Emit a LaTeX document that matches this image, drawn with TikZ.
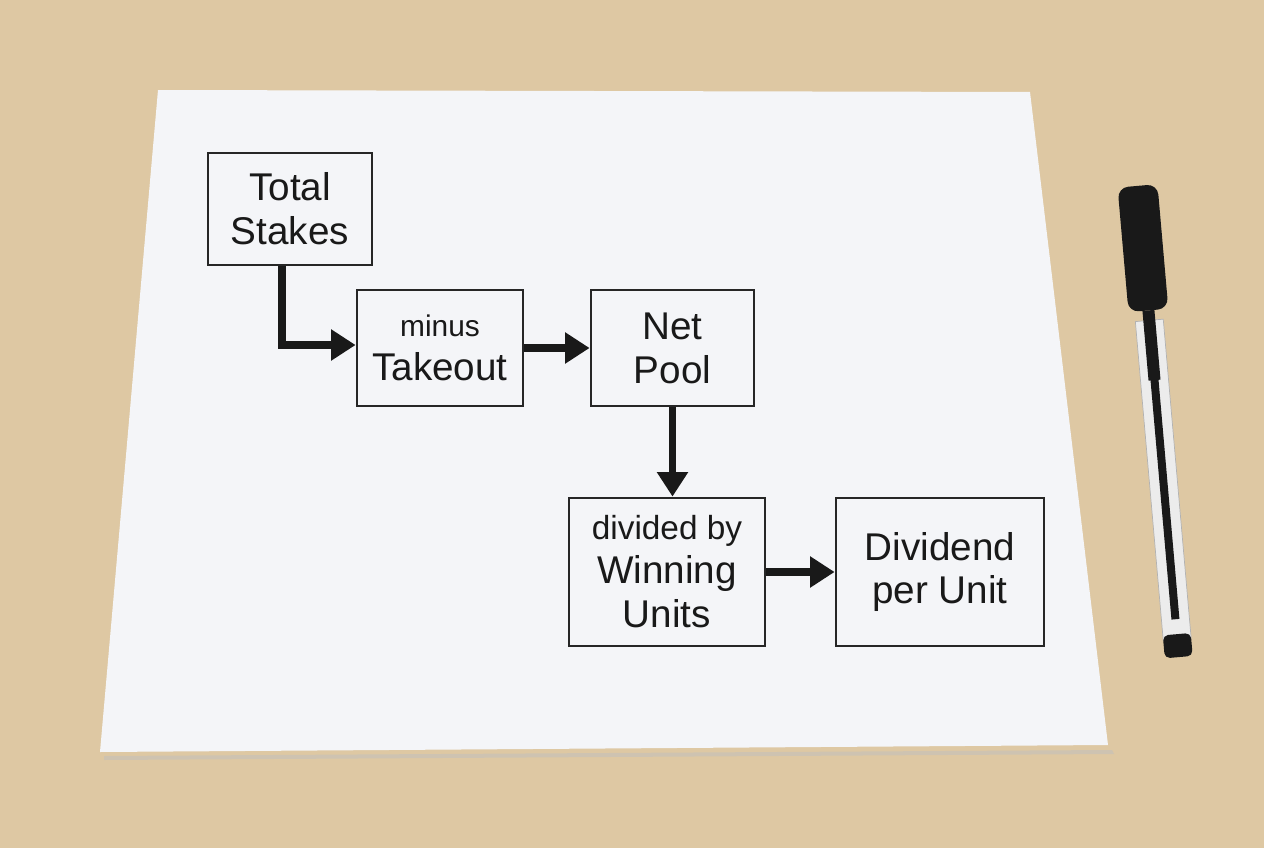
\documentclass[tikz,border=0pt]{standalone}
\usepackage{fontspec}
\setmainfont{Liberation Sans}
\usetikzlibrary{arrows.meta}
\begin{document}
\begin{tikzpicture}[x=0.02cm,y=-0.02cm,
  box/.style={draw=black!85,line width=1.6pt,inner sep=0pt,align=center,font=\fontsize{22}{25}\selectfont,text=black!90},
  arr/.style={draw=black!90,line width=4pt,-{Triangle[length=14pt,width=17pt]}}]
\useasboundingbox (0,0) rectangle (1264,848);
\fill[fill={rgb,255:red,222;green,200;blue,163}] (0,0) rectangle (1264,848);
\fill[black!25,opacity=0.5] (104,756) -- (1112,750) -- (1114,754) -- (104,760) -- cycle;
\fill[fill={rgb,255:red,244;green,245;blue,248}] (158,90) -- (1030,92) -- (1108,745) -- (100,752) -- cycle;
% pen
\begin{scope}[shift={(1158,420)},rotate=5]
\fill[white!85!gray,draw=gray!60] (-14,-100) rectangle (14,220);
\fill[black!90] (-4,-100) rectangle (4,200);
\fill[black!90,rounded corners=6pt] (-20,-235) rectangle (20,-110);
\fill[black!90] (-6,-110) rectangle (6,-40);
\fill[black!90,rounded corners=3pt] (-14,215) rectangle (14,238);
\end{scope}
% nodes
\node[box,minimum width=164*0.02cm,minimum height=112*0.02cm] (ts) at (290,209) {Total\\Stakes};
\node[box,minimum width=166*0.02cm,minimum height=116*0.02cm] (mt) at (440,348) {{\fontsize{17}{21}\selectfont minus}\\Takeout};
\node[box,minimum width=163*0.02cm,minimum height=116*0.02cm] (np) at (672.5,348) {Net\\Pool};
\node[box,minimum width=196*0.02cm,minimum height=148*0.02cm] (dv) at (667,572) {{\fontsize{19}{23}\selectfont divided by}\\Winning\\Units};
\node[box,minimum width=208*0.02cm,minimum height=148*0.02cm] (du) at (940,572) {Dividend\\per Unit};
\coordinate (c1) at (282,345);
% arrows
\draw[arr] (ts.south -| c1) -- (c1) -- (mt.west |- c1);
\draw[arr] (mt.east) -- (np.west);
\draw[arr] (np.south) -- (dv.north -| np.south);
\draw[arr] (dv.east) -- (du.west);
\end{tikzpicture}
\end{document}
